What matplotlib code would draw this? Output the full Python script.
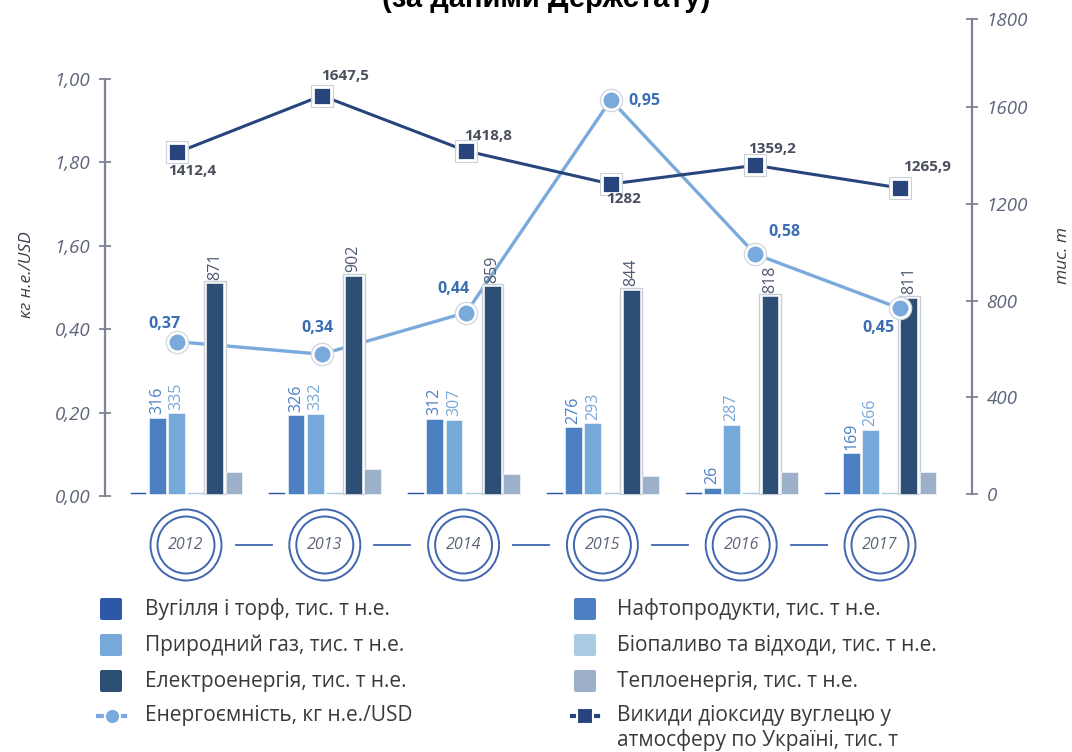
import numpy as np
import matplotlib
matplotlib.use("Agg")
import matplotlib.pyplot as plt
from matplotlib.patches import Arc, FancyBboxPatch

plt.rcParams["font.family"] = ["Open Sans", "DejaVu Sans"]

# ── data ──────────────────────────────────────────────────────────────────────
years = ["2012", "2013", "2014", "2015", "2016", "2017"]
coal = [10, 10, 10, 10, 10, 10]
oil = [316, 326, 312, 276, 26, 169]
gas = [335, 332, 307, 293, 287, 266]
bio = [8, 8, 8, 8, 8, 8]
elec = [871, 902, 859, 844, 818, 811]
heat = [90, 102, 82, 73, 90, 90]
intensity = [0.37, 0.34, 0.44, 0.95, 0.58, 0.45]
co2 = [1412.4, 1647.5, 1418.8, 1282, 1359.2, 1265.9]

left_ticks = [0, 0.2, 0.4, 0.6, 0.8, 1.0]
left_ticklabels = ["0,00", "0,20", "0,40", "1,60", "1,80", "1,00"]
right_ticks = [0, 400, 800, 1200, 1600, 1964]
right_ticklabels = ["0", "400", "800", "1200", "1600", "1800"]

bar_names = ["Вугілля і торф, тис. т н.е.", "Нафтопродукти, тис. т н.е.",
             "Природний газ, тис. т н.е.", "Біопаливо та відходи, тис. т н.е.",
             "Електроенергія, тис. т н.е.", "Теплоенергія, тис. т н.е."]
int_name = "Енергоємність, кг н.е./USD"
co2_name = "Викиди діоксиду вуглецю у\nатмосферу по Україні, тис. т"

# ── style ─────────────────────────────────────────────────────────────────────
C_COAL, C_OIL, C_GAS = "#2D58A7", "#4C80C3", "#76A8DA"
C_BIO, C_ELEC, C_HEAT = "#A9CCE4", "#2E4F75", "#9CB0CA"
C_INT, C_CO2 = "#7AAADB", "#27457C"
C_AX, C_TICK = "#7D8393", "#5D6579"
bar_cols = [C_COAL, C_OIL, C_GAS, C_BIO, C_ELEC, C_HEAT]
lab_cols = [None, "#4C80C3", "#7AA8D8", None, "#4D5870", None]

W, H = 1072, 752
fig = plt.figure(figsize=(W / 100, H / 100), dpi=100)
rect = [105 / W, (H - 496) / H, (972 - 105) / W, (496 - 14) / H]
x = np.arange(len(years))

# layer 1: energy-intensity line (behind bars) + left axis
ax_ln = fig.add_axes(rect, zorder=1)
ax_ln.patch.set_visible(False)
ax_ln.set_xlim(-0.5, 5.5)
ax_ln.set_ylim(0, 482 / 417)
ax_ln.plot(x, intensity, color=C_INT, lw=2.4, solid_capstyle="round")
for s in ["top", "right", "bottom"]:
    ax_ln.spines[s].set_visible(False)
ax_ln.spines["left"].set_bounds(0, 1.0)
ax_ln.spines["left"].set_color(C_AX)
ax_ln.spines["left"].set_linewidth(1.6)
ax_ln.set_xticks([])
ax_ln.set_yticks(left_ticks)
ax_ln.set_yticklabels(left_ticklabels, fontsize=13.5, style="italic", color=C_TICK)
ax_ln.tick_params(axis="y", direction="inout", length=9, width=1.3, color=C_AX, pad=6)
ax_ln.set_ylabel("кг н.е./USD", fontsize=12.5, style="italic", color="#3C3F48")
ax_ln.yaxis.set_label_coords(-70 / 867, 0.46)

# layer 2: bars
ax_b = fig.add_axes(rect, zorder=2)
ax_b.patch.set_visible(False)
ax_b.set_xlim(-81 / 138.8, 786 / 138.8)
ax_b.set_ylim(-8, 1985)
ax_b.axis("off")
step, bw = 19.2 / 138.8, 16.8 / 138.8
series = [coal, oil, gas, bio, elec, heat]
for k, (vals, col) in enumerate(zip(series, bar_cols)):
    xs = x + (k - 2.5) * step
    if k == 4:
        ax_b.bar(xs, np.array(vals) + 10, bw + 5 / 138.8, color="white",
                 edgecolor="#C9CED6", linewidth=1.0)
    ax_b.bar(xs, vals, bw, color=col, edgecolor="white", linewidth=0.4)
    if lab_cols[k]:
        for xi, v in zip(xs, vals):
            ax_b.annotate(str(v), (xi, v), xytext=(0, 2.5), textcoords="offset points",
                          rotation=90, ha="center", va="bottom", fontsize=11.5,
                          color=lab_cols[k])

# layer 3: energy-intensity markers + labels
ax_mk = fig.add_axes(rect, zorder=3)
ax_mk.patch.set_visible(False)
ax_mk.set_xlim(-0.5, 5.5)
ax_mk.set_ylim(0, 482 / 417)
ax_mk.axis("off")
ax_mk.plot(x, intensity, ls="none", marker="o", ms=16, mfc="white", mec="#D3D8E0", mew=1)
ax_mk.plot(x, intensity, ls="none", marker="o", ms=13, mfc=C_INT, mec="white", mew=1.5)
int_off = [(-9, 13), (-3, 19), (-9, 17), (24, -1), (21, 16), (-15, -14)]
for xi, v, (dx, dy) in zip(x, intensity, int_off):
    ax_mk.annotate(f"{v:.2f}".replace(".", ","), (xi, v), xytext=(dx, dy),
                   textcoords="offset points", ha="center", va="center",
                   fontsize=11.5, fontweight="bold", color="#3A6DB3")

# layer 4: CO2 line + right axis
ax_co2 = fig.add_axes(rect, zorder=4)
ax_co2.patch.set_visible(False)
ax_co2.set_xlim(-0.5, 5.5)
ax_co2.set_ylim(-8, 1985)
ax_co2.plot(x, co2, color=C_CO2, lw=2.2, marker="s", ms=13, mfc=C_CO2,
            mec="white", mew=2)
ax_co2.plot(x, co2, ls="none", marker="s", ms=15.5, mfc="none", mec="#CCD1D9", mew=0.8)
co2_off = [(11, -13), (17, 14), (16, 11), (9, -11), (12, 12), (20, 15)]
for xi, v, (dx, dy) in zip(x, co2, co2_off):
    ax_co2.annotate(f"{v:g}".replace(".", ","), (xi, v), xytext=(dx, dy),
                    textcoords="offset points", ha="center", va="center",
                    fontsize=11, fontweight="bold", color="#4A4F5E")
for s in ["top", "left", "bottom"]:
    ax_co2.spines[s].set_visible(False)
ax_co2.spines["right"].set_bounds(0, right_ticks[-1])
ax_co2.spines["right"].set_color(C_AX)
ax_co2.spines["right"].set_linewidth(1.6)
ax_co2.set_xticks([])
ax_co2.yaxis.tick_right()
ax_co2.yaxis.set_label_position("right")
ax_co2.set_yticks(right_ticks)
ax_co2.set_yticklabels(right_ticklabels, fontsize=13.5, style="italic", color=C_TICK)
ax_co2.tick_params(axis="y", direction="inout", length=9, width=1.3, color=C_AX, pad=6)
ax_co2.set_ylabel("тис. т", fontsize=12.5, style="italic", color="#3C3F48", rotation=90)
ax_co2.yaxis.set_label_coords(1 + 83 / 867, 0.5)

# year timeline under the bars
ax_t = fig.add_axes([105 / W, (H - 585) / H, 867 / W, 80 / H])
ax_t.set_xlim(ax_b.get_xlim())
ax_t.set_ylim(0, 80)
ax_t.axis("off")
C_YR = "#3F66AE"
sx = 138.8
for i, yr in enumerate(years):
    ax_t.add_patch(Arc((i, 40), 57 / sx, 57, color=C_YR, lw=1.4))
    ax_t.add_patch(Arc((i, 40), 71 / sx, 71, theta1=14, theta2=166, color=C_YR, lw=1.4))
    ax_t.add_patch(Arc((i, 40), 71 / sx, 71, theta1=194, theta2=346, color=C_YR, lw=1.4))
    ax_t.text(i, 40, yr, ha="center", va="center", fontsize=11.5, style="italic", color=C_TICK)
    if i < len(years) - 1:
        ax_t.plot([i + 0.358, i + 0.617], [40, 40], color=C_YR, lw=1.3)

# legend drawn by hand (pixel coords)
ax_leg = fig.add_axes([0, 0, 1, 1], zorder=0)
ax_leg.set_xlim(0, W)
ax_leg.set_ylim(H, 0)
ax_leg.axis("off")
rows_y = [609, 645, 681, 716]
cols_x = [(99, 145), (573, 617)]
left_items = [(bar_names[0], C_COAL), (bar_names[2], C_GAS), (bar_names[4], C_ELEC)]
right_items = [(bar_names[1], C_OIL), (bar_names[3], C_BIO), (bar_names[5], C_HEAT)]
for (sx0, tx), items in zip(cols_x, [left_items, right_items]):
    for yy, (name, col) in zip(rows_y, items):
        ax_leg.add_patch(FancyBboxPatch((sx0 + 1, yy - 11), 22, 22,
                                        boxstyle="round,pad=0,rounding_size=2",
                                        fc=col, ec="none"))
        ax_leg.text(tx, yy, name, va="center", ha="left", fontsize=15, color="#3A3A3A")
# line handles
yy = rows_y[3]
ax_leg.plot([98, 125], [yy, yy], color=C_INT, lw=3)
ax_leg.plot([111.5], [yy], marker="o", ms=11, mfc=C_INT, mec="white", mew=1.5)
ax_leg.text(cols_x[0][1], yy, int_name, va="center", ha="left", fontsize=15, color="#3A3A3A")
ax_leg.plot([572, 598], [yy, yy], color=C_CO2, lw=3)
ax_leg.plot([585], [yy], marker="s", ms=11, mfc=C_CO2, mec="white", mew=1.5)
ax_leg.text(cols_x[1][1], yy - 11, co2_name, va="top", ha="left", fontsize=15,
            color="#3A3A3A", linespacing=1.2)

# cropped title at the very top
fig.text(546 / W, 1 - 7 / H, "(за даними Держстату)", ha="center", va="baseline",
         fontsize=21, fontweight="bold", color="black", family="Liberation Sans")

fig.savefig("out.png", dpi=100)
